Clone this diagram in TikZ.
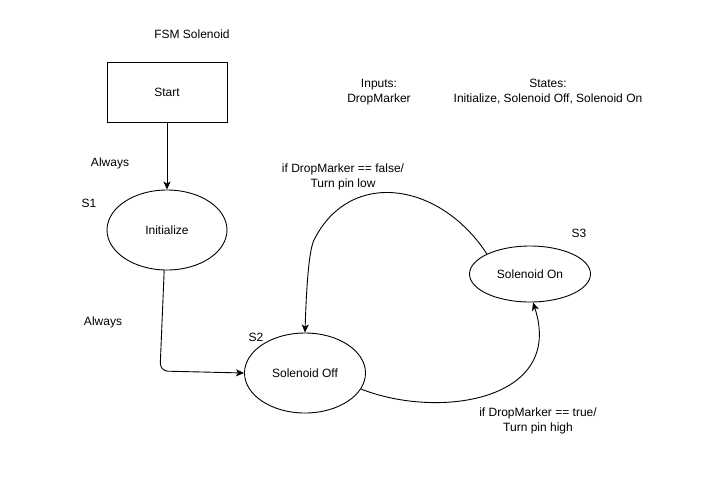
\documentclass[tikz,border=0pt]{standalone}
\usepackage{fontspec}
\setmainfont{Liberation Sans}
\usetikzlibrary{arrows.meta,shapes.geometric}
\begin{document}
\begin{tikzpicture}[x=1pt,y=-1pt,
  every node/.style={font=\fontsize{12}{15}\selectfont, inner sep=0pt},
  lbl/.style={align=center},
  statebox/.style={draw, line width=0.9pt, minimum width=120pt, minimum height=60pt},
  stateell/.style={draw, ellipse, line width=0.9pt, minimum width=120pt, minimum height=80pt},
  conn/.style={draw, line width=0.9pt, -{Stealth[length=8pt,width=7pt,inset=2pt]}}]
\useasboundingbox (0,0) rectangle (703,499);
\node[lbl] (title) at (192,34) {FSM Solenoid};
\node[statebox] (start) at (167,92) {Start};
\node[stateell] (init) at (167,230) {Initialize};
\node[stateell, minimum width=121pt] (off) at (305,373) {Solenoid Off};
\node[stateell, minimum width=121pt, minimum height=56pt] (on) at (530,274) {Solenoid On};
\node[lbl] (inputs) at (379,92) {Inputs:\\DropMarker};
\node[lbl] (states) at (548,92) {States:\\Initialize, Solenoid Off, Solenoid On};
\node[lbl] (always1) at (110,163) {Always};
\node[lbl] (s1) at (89,203) {S1};
\node[lbl] (always2) at (103,322) {Always};
\node[lbl] (s2) at (256,337) {S2};
\node[lbl] (s3) at (579,233) {S3};
\node[lbl] (lfalse) at (343,177) {if DropMarker == false/\\Turn pin low};
\node[lbl] (ltrue) at (538,421) {if DropMarker == true/\\Turn pin high};
\draw[conn] (start.south) -- (init.north);
\draw[conn, rounded corners=8pt] (init.-94) -- (160,371) -- (off.west);
\draw[conn] (on.155) .. controls (440,182) and (350,168) .. (314,240)
  .. controls (308,252) and (306,300) .. (off.north);
\draw[conn] (off.-16) .. controls (440,420) and (565,400) .. (on.-84);
\end{tikzpicture}
\end{document}
